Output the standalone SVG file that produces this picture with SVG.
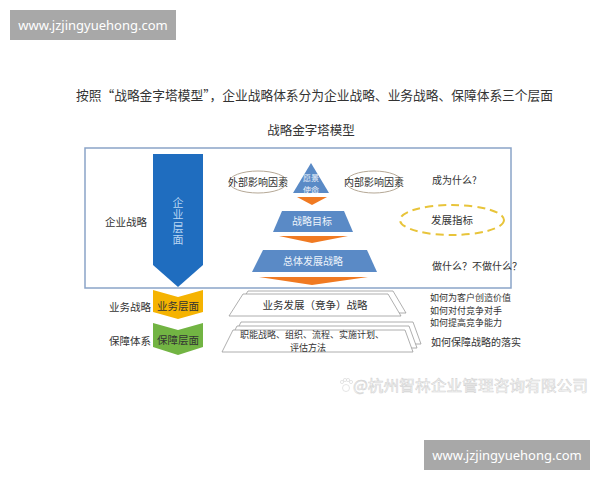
<svg xmlns="http://www.w3.org/2000/svg" width="600" height="480" viewBox="0 0 600 480">
<style>
text{font-family:"Noto Sans CJK SC","Noto Sans",sans-serif;fill:#333}
.wm{fill:#a8a8a8}
.wmt{font-family:"Noto Sans","DejaVu Sans",sans-serif;font-size:13px;fill:#fff;text-anchor:middle}
.lbl{font-size:10.5px}
.pyr{fill:#5a8ac6}
.org{fill:#f07a22}
.pt{font-size:10px;fill:#eef4fb;text-anchor:middle}
.par{fill:#fff;stroke:#9a9a9a;stroke-width:0.8}
.ell{fill:#fff;stroke:#b5a896;stroke-width:1}
.c{text-anchor:middle}
.vt{font-size:11px;fill:#b9d6f2;text-anchor:middle;writing-mode:vertical-rl;letter-spacing:1.5px}
.rt{font-size:9px}
</style>
<rect width="600" height="480" fill="#fff"/>
<g id="watermark-top"><rect class="wm" x="10" y="10" width="166" height="30"/><text class="wmt" x="93" y="30">www.jzjingyuehong.com</text></g>
<g id="watermark-bottom"><rect class="wm" x="424" y="440" width="166" height="30"/><text class="wmt" x="507" y="460">www.jzjingyuehong.com</text></g>
<text x="76" y="100" font-size="13" textLength="477" lengthAdjust="spacingAndGlyphs">按照“战略金字塔模型”，企业战略体系分为企业战略、业务战略、保障体系三个层面</text>
<text x="311" y="135" font-size="12.5" class="c">战略金字塔模型</text>
<g id="frame"><rect x="85" y="148" width="426" height="140" fill="none" stroke="#8aa4c8" stroke-width="1.5"/></g>
<g id="enterprise-level">
<polygon points="153,154 203,154 203,265 178,287 153,265" fill="#1f6dbf"/>
<text class="vt" x="178" y="222">企业层面</text>
</g>
<text x="105" y="226" class="lbl">企业战略</text>
<g id="vision"><polygon class="pyr" points="311,163 329,193 293,193"/><text class="pt" x="311" y="181" style="font-size:8px"><tspan x="311">愿景</tspan><tspan x="311" dy="11.6">使命</tspan></text></g>
<g id="connectors">
<polygon class="org" points="297,197 327,197 312,205"/>
<polygon class="org" points="279,236 348,236 312,243"/>
<polygon class="org" points="259,277 368,277 312,285"/>
</g>
<g id="goals"><polygon class="pyr" points="282,211 344,211 353,232 273,232"/><text class="pt" x="312" y="225">战略目标</text></g>
<g id="overall"><polygon class="pyr" points="263,250 367,250 377,272 252,272"/><text class="pt" x="313" y="265">总体发展战略</text></g>
<g id="external"><ellipse class="ell" cx="258" cy="182" rx="29" ry="11"/><text x="258" y="186" font-size="10" class="c">外部影响因素</text></g>
<g id="internal"><ellipse class="ell" cx="374" cy="182" rx="28" ry="11"/><text x="374" y="186" font-size="10" class="c">内部影响因素</text></g>
<text x="432" y="184" font-size="10">成为什么?</text>
<g id="indicator"><ellipse cx="452" cy="220" rx="52" ry="15" fill="none" stroke="#e8c43a" stroke-width="2" stroke-dasharray="8,5"/><text x="452" y="224" font-size="10.5" class="c">发展指标</text></g>
<text x="432" y="270" font-size="10">做什么？不做什么？</text>
<g id="business-level">
<polygon points="153,290 178,297 203,290 203,312 178,319 153,312" fill="#f5b301"/>
<text x="178" y="310" font-size="10.5" class="c">业务层面</text>
</g>
<text x="109" y="311" class="lbl">业务战略</text>
<g id="support-level">
<polygon points="153,323 178,330 203,323 203,347 178,355 153,347" fill="#72b443"/>
<text x="178" y="344" font-size="10.5" class="c">保障层面</text>
</g>
<text x="109" y="345" class="lbl">保障体系</text>
<g id="business-strategy">
<polygon class="par" points="248,291 393,291 406,313 234,313"/>
<polygon class="par" points="243,294 388,294 401,316 229,316"/>
<text x="315" y="309" font-size="10.5" class="c">业务发展（竞争）战略</text>
</g>
<g id="functional">
<polygon class="par" points="241,322 413,322 421,344 230,344"/>
<polygon class="par" points="237,326 409,326 417,348 226,348"/>
<polygon class="par" points="233,330 405,330 413,352 222,352"/>
<text x="312" y="338" font-size="9" class="c"><tspan x="312">职能战略、组织、流程、实施计划、</tspan><tspan x="308" dy="13">评估方法</tspan></text>
</g>
<text class="rt" x="430" y="301"><tspan x="430">如何为客户创造价值</tspan><tspan x="430" dy="12.5">如何对付竞争对手</tspan><tspan x="430" dy="12.5">如何提高竞争能力</tspan></text>
<text x="431" y="346" font-size="10">如何保障战略的落实</text>
<g id="company-watermark" fill="#fff" stroke="#d4d4d4" stroke-width="0.6">
<circle cx="346" cy="388" r="3.5"/><circle cx="342" cy="382" r="1.6"/><circle cx="345" cy="380" r="1.6"/><circle cx="348" cy="380" r="1.6"/><circle cx="351" cy="382" r="1.6"/>
<text x="353" y="391" font-size="15" textLength="235" lengthAdjust="spacingAndGlyphs" style="fill:#fff;stroke:#d4d4d4;stroke-width:0.6">@杭州智林企业管理咨询有限公司</text>
</g>
</svg>
